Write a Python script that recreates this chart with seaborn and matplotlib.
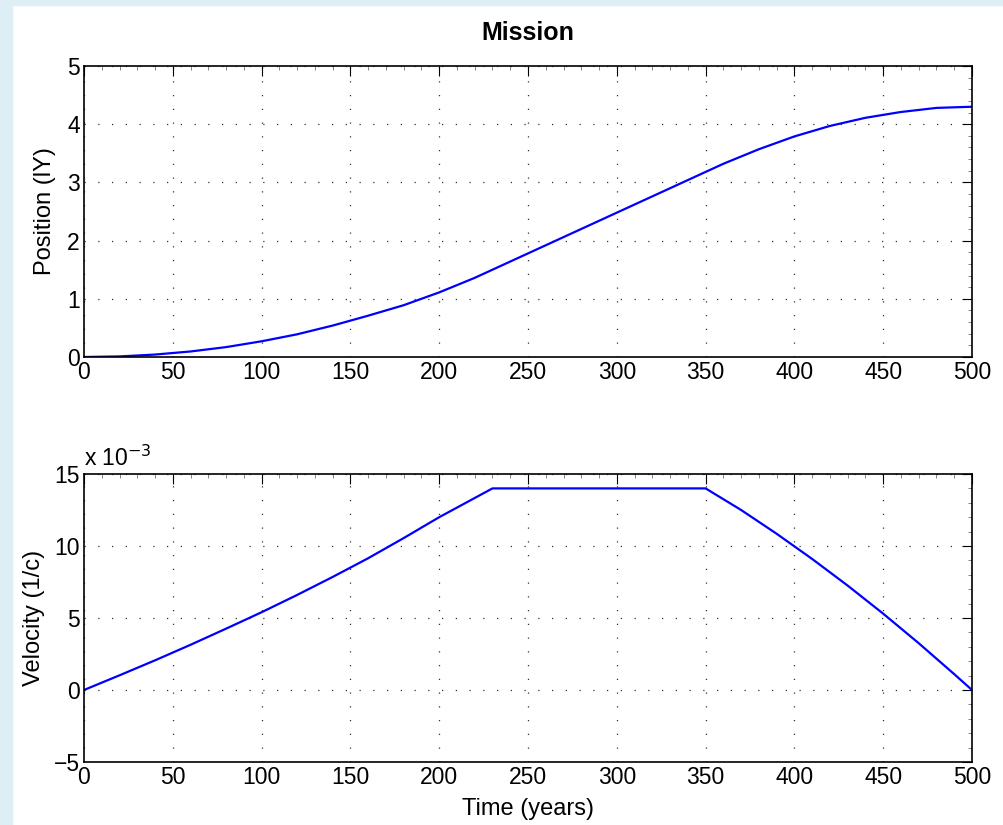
import numpy as np
import pandas as pd
import seaborn as sns
import matplotlib
matplotlib.use("Agg")
import matplotlib.pyplot as plt
from matplotlib.ticker import MultipleLocator, FixedLocator
from matplotlib.patches import Rectangle

# Data
pos_time = [0, 20, 40, 60, 80, 100, 120, 140, 160, 180, 200, 220, 230, 240, 260,
            280, 300, 320, 340, 350, 360, 380, 400, 420, 440, 460, 480, 500]
position = [0.0, 0.01, 0.042, 0.095, 0.17, 0.27, 0.39, 0.54, 0.71, 0.89, 1.11,
            1.36, 1.50, 1.64, 1.92, 2.20, 2.48, 2.76, 3.04, 3.18, 3.32, 3.57,
            3.79, 3.97, 4.11, 4.21, 4.28, 4.30]

vel_time = [0, 20, 40, 60, 80, 100, 120, 140, 160, 180, 200, 215, 230, 350,
            370, 390, 410, 430, 450, 470, 490, 500]
velocity_e3 = [0.0, 1.02, 2.06, 3.14, 4.26, 5.4, 6.6, 7.85, 9.15, 10.55, 12.0,
               13.0, 14.0, 14.0, 12.5, 10.85, 9.1, 7.25, 5.3, 3.25, 1.1, 0.0]

x_ticks = [0, 50, 100, 150, 200, 250, 300, 350, 400, 450, 500]
pos_ticks = [0, 1, 2, 3, 4, 5]
vel_ticks = [-5, 0, 5, 10, 15]

sns.set_theme(style="white")
plt.rcParams['font.family'] = ['Liberation Sans', 'DejaVu Sans']
plt.rcParams['axes.unicode_minus'] = True
plt.rcParams['text.color'] = 'black'
plt.rcParams['axes.labelcolor'] = 'black'

fig = plt.figure(figsize=(10.04, 8.25), dpi=100)
fig.patch.set_facecolor("white")
# light blue frame strips (top and left) as in the reference
fig.patches.append(Rectangle((0, 0), 12 / 1004, 1, transform=fig.transFigure,
                             color="#ddeef5", zorder=0))
fig.patches.append(Rectangle((0, 1 - 5 / 825), 1, 5 / 825, transform=fig.transFigure,
                             color="#ddeef5", zorder=0))

L = 84 / 1004
W = (972 - 84) / 1004
ax1 = fig.add_axes([L, 1 - 357 / 825, W, (357 - 66) / 825])
ax2 = fig.add_axes([L, 1 - 762 / 825, W, (762 - 474) / 825])

df_pos = pd.DataFrame({"t": pos_time, "p": position})
df_vel = pd.DataFrame({"t": vel_time, "v": velocity_e3})

sns.lineplot(data=df_pos, x="t", y="p", ax=ax1, color="#0000ff", linewidth=1.6)
sns.lineplot(data=df_vel, x="t", y="v", ax=ax2, color="#0000ff", linewidth=1.6)

for ax, yt in ((ax1, pos_ticks), (ax2, vel_ticks)):
    ax.set_xlim(0, 500)
    ax.set_ylim(yt[0], yt[-1])
    ax.xaxis.set_major_locator(FixedLocator(x_ticks))
    ax.yaxis.set_major_locator(FixedLocator(yt))
    ax.xaxis.set_minor_locator(MultipleLocator(10))
    ax.yaxis.set_minor_locator(MultipleLocator((yt[1] - yt[0]) / 5))
    ax.set_xticklabels([str(v) for v in x_ticks])
    ax.set_yticklabels([str(v).replace('-', '\u2212') for v in yt])
    ax.tick_params(which="both", direction="in", top=True, right=True,
                   labelsize=16.5, colors="black")
    ax.tick_params(which="major", length=7, width=0.8, pad=3)
    ax.tick_params(which="minor", length=3, width=0.5, color="#555555")
    ax.grid(True, which="major", linestyle=(0, (1, 10)), color="#333333",
            linewidth=0.9)
    for s in ax.spines.values():
        s.set_visible(True)
        s.set_color("black")
        s.set_linewidth(1.2)
    ax.set_facecolor("white")

ax1.set_xlabel("")
ax1.set_ylabel("Position (lY)", fontsize=17, labelpad=8)
ax2.set_ylabel("Velocity (1/c)", fontsize=17, labelpad=6)
ax2.set_xlabel("Time (years)", fontsize=17, labelpad=6)
ax1.set_title("Mission", fontsize=18, fontweight="bold", pad=19, color="black")
ax2.text(0.0, 1.01, r"x 10$^{-3}$", transform=ax2.transAxes, fontsize=16.5,
         ha="left", va="bottom")

fig.savefig("out.png", dpi=100, facecolor=fig.get_facecolor())
